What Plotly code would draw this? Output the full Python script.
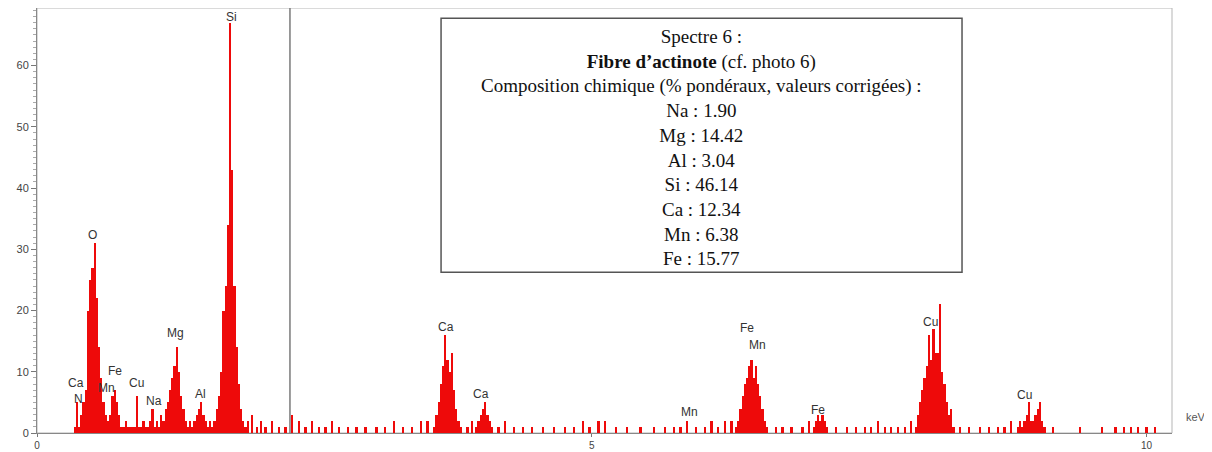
import plotly.graph_objects as go

# EDS spectrum, channel counts (0.02 keV channels)
CHANNEL = 0.02

# O, Fe/Mn L, Cu L, Na, Mg, Al and Si region
low_start = 0.34
low_counts = [1, 5, 1, 3, 5, 7, 20, 25, 27, 31, 22, 14, 9, 5, 3, 2,
              3, 6, 7, 5, 3, 1, 1, 2, 1, 1, 1, 1, 6, 1, 1, 2, 1, 1, 2, 4,
              1, 2, 1, 3, 2, 4, 5, 7, 9, 11, 14, 10, 6, 4, 2, 1, 2, 1, 2,
              3, 4, 5, 3, 2, 1, 2, 1, 2, 4, 6, 10, 20, 24, 34, 67, 43, 24,
              14, 8, 4, 2, 1]

ca_ka_start = 3.58
ca_ka_counts = [1, 3, 5, 8, 11, 16, 12, 10, 13, 7, 4, 2, 1]

ca_kb_start = 3.96
ca_kb_counts = [1, 2, 3, 4, 5, 3, 2, 1]

fe_ka_start = 6.30
fe_ka_counts = [1, 2, 4, 6, 8, 9, 11, 12, 9, 11, 8, 6, 4, 2, 1]

fe_kb_start = 7.00
fe_kb_counts = [1, 2, 3, 2, 3, 2, 1]

cu_ka_start = 7.92
cu_ka_counts = [1, 3, 5, 7, 9, 11, 16, 12, 17, 13, 13, 21, 10, 8, 5, 3, 4, 1]

cu_kb_start = 8.84
cu_kb_counts = [1, 2, 1, 2, 3, 5, 2, 2, 3, 4, 5, 2, 1]

# background noise channels
noise_kev = [1.90, 1.94, 1.98, 2.02, 2.06, 2.12, 2.18, 2.24, 2.30, 2.36, 2.42,
             2.48, 2.54, 2.60, 2.66, 2.72, 2.80, 2.88, 2.96, 3.06, 3.14, 3.22,
             3.30, 3.38, 3.46, 3.52, 3.88, 3.92, 4.16, 4.22, 4.30, 4.38, 4.46,
             4.56, 4.66, 4.76, 4.84, 4.92, 4.98, 5.06, 5.12, 5.22, 5.32, 5.44,
             5.56, 5.66, 5.74, 5.80, 5.86, 5.94, 6.02, 6.08, 6.14, 6.20, 6.26,
             6.66, 6.72, 6.80, 6.90, 6.96, 7.20, 7.30, 7.38, 7.46, 7.52, 7.58,
             7.64, 7.70, 7.76, 7.82, 7.88, 8.32, 8.40, 8.50, 8.58, 8.66, 8.72,
             8.78, 9.16, 9.40, 9.60, 9.72, 9.80, 9.86, 9.92, 10.00, 10.08]
noise_counts = [2, 3, 1, 2, 1, 2, 1, 1, 3, 2, 1, 2, 1, 1, 2, 1, 1, 1, 1, 1,
                1, 2, 1, 1, 2, 2, 1, 2, 1, 2, 1, 1, 1, 1, 1, 1, 1, 2, 1, 2,
                2, 1, 1, 1, 1, 1, 1, 1, 2, 1, 1, 2, 1, 2, 2, 1, 1, 1, 1, 2,
                1, 1, 1, 1, 1, 2, 1, 1, 1, 1, 2, 1, 1, 1, 1, 1, 1, 2, 1, 1,
                1, 1, 1, 1, 1, 1, 1]

# element line labels
peak_labels = ["Ca", "N", "O", "Fe", "Mn", "Cu", "Na", "Mg", "Al", "Si",
               "Ca", "Ca", "Mn", "Fe", "Mn", "Fe", "Cu", "Cu"]
label_kev = [0.35, 0.37, 0.50, 0.70, 0.63, 0.90, 1.05, 1.25, 1.47, 1.75,
             3.69, 4.00, 5.88, 6.40, 6.49, 7.04, 8.05, 8.90]
label_counts = [8.1, 5.6, 32.3, 10.2, 7.3, 8.1, 5.3, 16.3, 6.3, 68.0,
                17.3, 6.3, 3.4, 17.1, 14.3, 3.7, 18.1, 6.2]

marker_kev = 2.28

info_lines = [
    "Spectre 6 :",
    "<b>Fibre d’actinote</b> (cf. photo 6)",
    "Composition chimique (% pondéraux, valeurs corrigées) :",
    "Na : 1.90",
    "Mg : 14.42",
    "Al : 3.04",
    "Si : 46.14",
    "Ca : 12.34",
    "Mn : 6.38",
    "Fe : 15.77",
]

energies, counts = [], []
for start, vals in [(low_start, low_counts), (ca_ka_start, ca_ka_counts),
                    (ca_kb_start, ca_kb_counts), (fe_ka_start, fe_ka_counts),
                    (fe_kb_start, fe_kb_counts), (cu_ka_start, cu_ka_counts),
                    (cu_kb_start, cu_kb_counts)]:
    for i, v in enumerate(vals):
        energies.append(round(start + i * CHANNEL, 2))
        counts.append(v)
energies += noise_kev
counts += noise_counts

fig = go.Figure()
fig.add_trace(
    go.Bar(
        x=energies,
        y=counts,
        width=CHANNEL,
        marker_color="#ee0a0a",
        marker_line_width=0,
        hoverinfo="x+y",
    )
)

for txt, xk, yc in zip(peak_labels, label_kev, label_counts):
    fig.add_annotation(x=xk, y=yc, text=txt, showarrow=False,
                       font=dict(family="Liberation Sans, Arial", size=12, color="#333"))

# gray cursor line
fig.add_shape(type="line", xref="x", yref="paper", x0=marker_kev, x1=marker_kev,
              y0=0, y1=1, line=dict(color="#7a7a7a", width=1.5))
# frame
fig.add_shape(type="rect", xref="paper", yref="paper", x0=0, x1=1, y0=0, y1=1,
              line=dict(color="#b5b5b5", width=1), layer="below")

# info box
fig.add_shape(type="rect", xref="paper", yref="paper", x0=0.356, x1=0.815,
              y0=0.378, y1=0.976, line=dict(color="#555", width=1.5),
              fillcolor="white")
fig.add_annotation(xref="paper", yref="paper", x=0.5855, y=0.672,
                   text="<br>".join(info_lines), showarrow=False,
                   align="center", xanchor="center", yanchor="middle",
                   font=dict(family="Liberation Serif, Times New Roman", size=19, color="#111"))

fig.add_annotation(xref="paper", yref="paper", x=1.021, y=0.018, text="keV",
                   showarrow=False, xanchor="center",
                   font=dict(family="Liberation Sans, Arial", size=11, color="#555"))

# page body adds an 8px offset, so the figure is shrunk to keep the plot in place
fig.update_layout(
    width=1204,
    height=444,
    margin=dict(l=29, r=40, t=0, b=19, autoexpand=False),
    plot_bgcolor="white",
    paper_bgcolor="white",
    showlegend=False,
    bargap=0,
    xaxis=dict(
        range=[0, 10.23],
        tickvals=[0, 5, 10],
        ticks="outside",
        ticklen=3,
        tickcolor="#777",
        showline=True,
        linecolor="#888",
        showgrid=False,
        zeroline=False,
        automargin=False,
        tickfont=dict(family="Liberation Sans, Arial", size=10, color="#444"),
    ),
    yaxis=dict(
        range=[0, 69.4],
        dtick=10,
        ticks="outside",
        ticklen=5,
        tickcolor="#777",
        minor=dict(dtick=1, ticks="outside", ticklen=3, tickcolor="#aaa"),
        showline=True,
        linecolor="#888",
        showgrid=False,
        zeroline=False,
        automargin=False,
        tickfont=dict(family="Liberation Sans, Arial", size=11, color="#444"),
    ),
)

fig.write_html("out.html")
